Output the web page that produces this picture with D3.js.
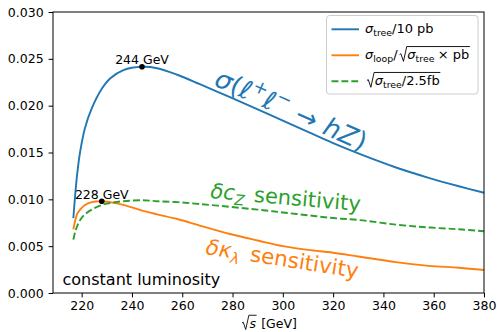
<!DOCTYPE html>
<html>
<head>
<meta charset="utf-8">
<script src="https://cdn.jsdelivr.net/npm/d3@7"></script>
<style>
  html, body { margin: 0; padding: 0; background: #fff; }
  svg { display: block; font-family: "DejaVu Sans", sans-serif; }
</style>
</head>
<body>
<svg id="chart" width="497" height="332"></svg>
<script>
// Centre-of-mass energies (GeV)
const energy = [216.7, 217.4, 218.3, 219.4, 221.3, 224, 228, 231.3, 236.6, 244, 250, 258, 267, 279, 290, 300, 310, 320, 330, 345, 358, 370, 380];
// sigma_tree / 10 pb
const sigmaTree = [0.0080, 0.0104, 0.0129, 0.0151, 0.0176, 0.0197, 0.0218, 0.0229, 0.0238, 0.02415, 0.0240, 0.0233, 0.0223, 0.0209, 0.0196, 0.0184, 0.0172, 0.0160, 0.0149, 0.0134, 0.0123, 0.0114, 0.0107];
// sigma_loop / sqrt(sigma_tree x pb)
const sigmaLoop = [0.0068, 0.0077, 0.0085, 0.0089, 0.0094, 0.0097, 0.0098, 0.0097, 0.0094, 0.0088, 0.0084, 0.0079, 0.0072, 0.0063, 0.0056, 0.0050, 0.0046, 0.0043, 0.0039, 0.0033, 0.0029, 0.0027, 0.00245];
// sqrt(sigma_tree / 2.5 fb)
const sqrtTree = [0.0057, 0.0065, 0.0072, 0.0078, 0.0084, 0.0089, 0.0094, 0.0096, 0.0098, 0.0099, 0.0098, 0.0097, 0.0095, 0.0092, 0.0089, 0.0086, 0.0083, 0.0080, 0.0078, 0.0073, 0.0070, 0.0068, 0.0066];

// Marked maxima
const peakEnergy = [244, 228];
const peakValue = [0.02415, 0.0098];
const peakLabel = ["244 GeV", "228 GeV"];

const xTicks = [220, 240, 260, 280, 300, 320, 340, 360, 380];
const yTicks = [0, 0.005, 0.010, 0.015, 0.020, 0.025, 0.030];

const colors = { tree: "#1f77b4", loop: "#ff7f0e", sqrt: "#2ca02c" };

const L = 53, R = 484, T = 12, B = 293;
const FS = 12.5;

const svg = d3.select("#chart");
const x = d3.scaleLinear().domain([208.6, 380]).range([L, R]);
const y = d3.scaleLinear().domain([0, 0.03]).range([B, T]);

// Curves
const series = [
  { vals: sigmaTree, color: colors.tree, dash: null },
  { vals: sigmaLoop, color: colors.loop, dash: null },
  { vals: sqrtTree, color: colors.sqrt, dash: "6.9,3" }
];
const line = d3.line().curve(d3.curveCatmullRom.alpha(0.5));
const plot = svg.append("g");
series.forEach(s => {
  const pts = energy.map((e, i) => [x(e), y(s.vals[i])]);
  plot.append("path")
    .attr("d", line(pts))
    .attr("fill", "none")
    .attr("stroke", s.color)
    .attr("stroke-width", 1.9)
    .attr("stroke-dasharray", s.dash);
});

// Maxima markers
peakEnergy.forEach((e, i) => {
  plot.append("circle").attr("cx", x(e)).attr("cy", y(peakValue[i])).attr("r", 2.8).attr("fill", "#000");
  plot.append("text")
    .attr("x", x(e)).attr("y", y(peakValue[i]) - 2.5)
    .attr("text-anchor", "middle").attr("font-size", FS).attr("fill", "#000")
    .text(peakLabel[i]);
});

// Axes
const xAxis = d3.axisBottom(x).tickValues(xTicks).tickSize(4.4).tickPadding(4).tickSizeOuter(0);
const yAxis = d3.axisLeft(y).tickValues(yTicks).tickSize(4.4).tickPadding(5).tickSizeOuter(0).tickFormat(d3.format(".3f"));
const gx = svg.append("g").attr("transform", `translate(0,${B})`).call(xAxis);
const gy = svg.append("g").attr("transform", `translate(${L},0)`).call(yAxis);
[gx, gy].forEach(g => {
  g.select(".domain").remove();
  g.selectAll(".tick line").attr("stroke", "#000").attr("stroke-width", 1);
  g.selectAll(".tick text").attr("font-size", FS).attr("fill", "#000").attr("font-family", "DejaVu Sans");
});

// Frame
svg.append("rect").attr("x", L).attr("y", T).attr("width", R - L).attr("height", B - T)
  .attr("fill", "none").attr("stroke", "#000").attr("stroke-width", 1);

// Math-style text builder: pieces laid out one after another
function mathText(g, parts, size, color, subScale) {
  const ss = subScale || 0.7;
  let cx = 0;
  let sqrtStart = null;
  parts.forEach(p => {
    if (p.sqrt === "open") {
      sqrtStart = cx + size * 0.15;
      cx += size * 0.75;
      return;
    }
    if (p.sqrt === "close") {
      const top = -size * 0.98;
      g.append("path")
        .attr("d", `M${sqrtStart},${-size * 0.36} L${sqrtStart + size * 0.1},${-size * 0.43} L${sqrtStart + size * 0.3},${size * 0.16} L${sqrtStart + size * 0.55},${top} L${cx + size * 0.05},${top}`)
        .attr("fill", "none").attr("stroke", color).attr("stroke-width", size * 0.07);
      cx += size * 0.1;
      return;
    }
    const small = p.sub || p.sup;
    const fs = small ? size * ss : size;
    const dy = p.sub ? size * 0.22 : p.sup ? -size * 0.42 : 0;
    const t = g.append("text")
      .attr("x", cx).attr("y", dy)
      .attr("font-size", fs)
      .attr("fill", color)
      .style("font-style", p.it ? "italic" : "normal")
      .attr("xml:space", "preserve")
      .text(p.t);
    cx += t.node().getComputedTextLength() + (p.after || 0) * size;
  });
  return cx;
}

// Legend
const leg = svg.append("g");
leg.append("rect").attr("x", 326.5).attr("y", 15.5).attr("width", 151.5).attr("height", 78.5)
  .attr("rx", 3).attr("fill", "#fff").attr("fill-opacity", 0.8).attr("stroke", "#cccccc").attr("stroke-width", 1);
const legendRows = [
  { yh: 29.3, color: colors.tree, dash: null,
    parts: [{ t: "σ", it: true }, { t: "tree", sub: true }, { t: "/10 pb" }] },
  { yh: 55.3, color: colors.loop, dash: null,
    parts: [{ t: "σ", it: true }, { t: "loop", sub: true }, { t: "/" }, { sqrt: "open" }, { t: "σ", it: true },
            { t: "tree", sub: true, after: 0.25 }, { t: "× pb" }, { sqrt: "close" }] },
  { yh: 81.2, color: colors.sqrt, dash: "6.9,3",
    parts: [{ sqrt: "open" }, { t: "σ", it: true }, { t: "tree", sub: true }, { t: "/2.5fb" }, { sqrt: "close" }] }
];
legendRows.forEach(r => {
  leg.append("line").attr("x1", 331.5).attr("x2", 359).attr("y1", r.yh).attr("y2", r.yh)
    .attr("stroke", r.color).attr("stroke-width", 1.9).attr("stroke-dasharray", r.dash);
  const g = leg.append("g").attr("transform", `translate(365,${r.yh + 4})`);
  mathText(g, r.parts, 13, "#000", 0.72);
});

// x-axis label: sqrt(s) [GeV]
const xl = svg.append("g");
const xlInner = xl.append("g");
const xlw = mathText(xlInner, [{ sqrt: "open" }, { t: "s", it: true }, { sqrt: "close" }, { t: " [GeV]" }], FS, "#000");
xl.attr("transform", `translate(${(L + R) / 2 - xlw / 2},327.5)`);

// Curve labels
const lblTree = svg.append("g").attr("transform", "translate(213,85) rotate(24)");
mathText(lblTree, [{ t: "σ", it: true }, { t: "(" }, { t: "ℓ", it: true }, { t: "+", sup: true }, { t: "ℓ", it: true },
                   { t: "−", sup: true, after: 0.35 }, { t: "→", after: 0.35 }, { t: "hZ", it: true }, { t: ")" }], 26, colors.tree);

const lblCz = svg.append("g").attr("transform", "translate(210,198) rotate(5)");
mathText(lblCz, [{ t: "δc", it: true }, { t: "Z", it: true, sub: true, after: 0.12 }, { t: " sensitivity" }], 21, colors.sqrt);

const lblKl = svg.append("g").attr("transform", "translate(205,254) rotate(9)");
mathText(lblKl, [{ t: "δκ", it: true }, { t: "λ", it: true, sub: true, after: 0.15 }, { t: " sensitivity" }], 21.5, colors.loop);

// Annotation
svg.append("text").attr("x", 62.5).attr("y", 284.5).attr("font-size", 16).attr("fill", "#000").text("constant luminosity");
</script>
</body>
</html>
